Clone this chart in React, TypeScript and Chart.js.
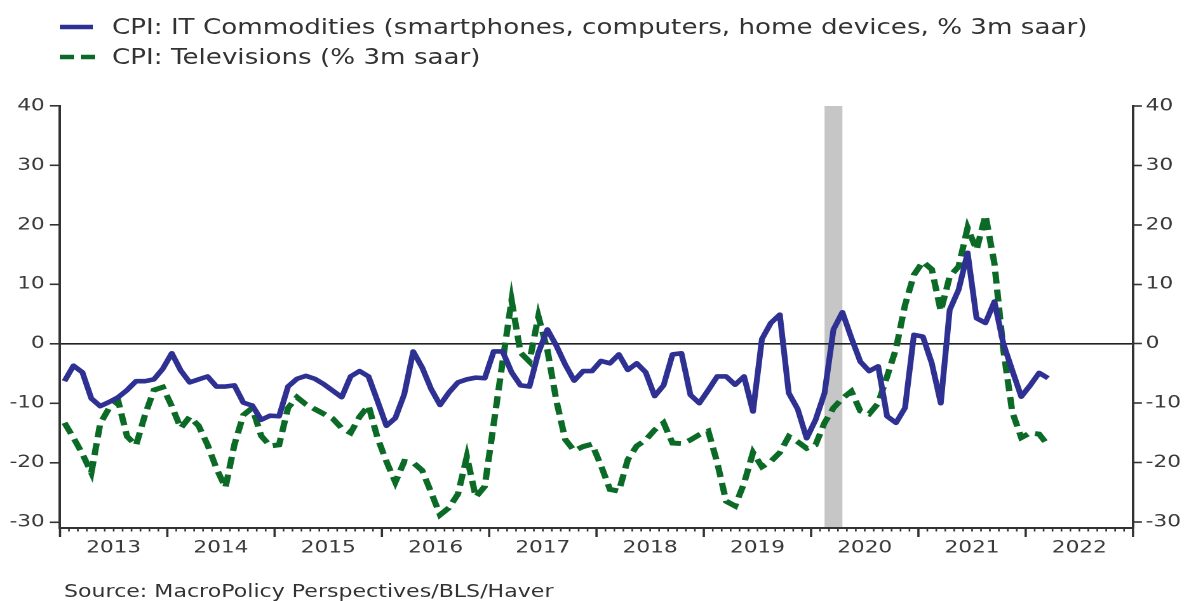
import React, { useEffect, useRef } from "react";
import { Chart, registerables } from "chart.js";

Chart.register(...registerables);

// ---------------- data ----------------
const yearLabels = ["2013", "2014", "2015", "2016", "2017", "2018", "2019", "2020", "2021", "2022"];
const yTicks = [-30, -20, -10, 0, 10, 20, 30, 40];

// monthly, Jan 2013 .. Mar 2022
const itCommodities = [
  -6.3, -3.7, -4.8, -9.2, -10.5, -9.8, -9.0, -7.8, -6.3, -6.3, -6.0, -4.2,
  -1.6, -4.5, -6.5, -6.0, -5.5, -7.2, -7.2, -7.0, -9.9, -10.4, -12.8, -12.1,
  -12.2, -7.2, -5.9, -5.4, -5.9, -6.8, -7.9, -9.0, -5.5, -4.6, -5.5, -9.6,
  -13.8, -12.5, -8.5, -1.3, -4.0, -7.6, -10.3, -8.2, -6.5, -6.0, -5.7, -5.8,
  -1.3, -1.3, -4.8, -7.0, -7.2, -1.5, 2.4, -0.3, -3.5, -6.2, -4.6, -4.6,
  -2.9, -3.3, -1.8, -4.4, -3.3, -4.8, -8.8, -7.0, -1.8, -1.6, -8.6, -10.0,
  -7.8, -5.5, -5.5, -6.9, -5.5, -11.4, 0.8, 3.5, 4.9, -8.3, -11.0, -15.9,
  -12.8, -8.3, 2.4, 5.3, 1.0, -3.0, -4.6, -3.8, -12.2, -13.3, -10.8, 1.5,
  1.2, -3.3, -10.0, 5.7, 9.1, 15.3, 4.3, 3.5, 7.1, 0.0, -4.5, -8.9,
  -7.0, -4.9, -5.8,
];

const televisions = [
  -13.3, -15.8, -18.5, -21.7, -13.4, -10.8, -9.6, -15.6, -17.1, -12.0, -7.8, -7.3,
  -10.5, -14.2, -12.3, -13.8, -17.0, -21.0, -24.2, -17.0, -12.0, -10.8, -15.5, -17.2,
  -17.0, -10.8, -9.0, -10.2, -11.0, -11.8, -12.6, -14.2, -15.0, -12.3, -10.4, -15.8,
  -19.8, -23.3, -19.8, -20.0, -21.3, -25.0, -28.8, -27.6, -25.3, -19.0, -25.8, -24.0,
  -13.5, -3.0, 7.3, -1.5, -3.0, 4.6, -1.0, -9.5, -16.1, -18.0, -17.3, -16.9,
  -20.5, -24.5, -24.8, -19.5, -17.2, -16.2, -14.5, -13.3, -16.7, -16.8, -16.2, -15.3,
  -14.7, -20.0, -26.5, -27.3, -23.5, -18.3, -20.7, -19.8, -18.3, -15.6, -16.5, -17.6,
  -17.0, -13.3, -10.8, -9.2, -8.0, -11.3, -11.8, -10.0, -5.5, -0.8, 6.5, 11.6,
  13.8, 12.5, 5.5, 11.3, 13.0, 19.5, 15.8, 21.6, 13.5, -1.0, -11.5, -15.8,
  -15.0, -15.2, -17.1,
];

// recession shading, months since Jan 2013 (Feb 2020 .. Apr 2020)
const recessionStart = 85;
const recessionEnd = 87;

const legendLabels = [
  "CPI: IT Commodities (smartphones, computers, home devices, % 3m saar)",
  "CPI: Televisions (% 3m saar)",
];
const sourceText = "Source: MacroPolicy Perspectives/BLS/Haver";

// ---------------- style ----------------
const W = 1189;
const H = 601;
const CW = 936; // canvas drawing width (stretched horizontally to W)
const SX = W / CW;
const BLUE = "#2e3192";
const GREEN = "#0b6b26";
const AXIS = "#333333";
const TEXT = "#3a3a3a";
const FONT = "'DejaVu Sans', Verdana, sans-serif";

export default function App() {
  const ref = useRef<HTMLCanvasElement | null>(null);

  useEffect(() => {
    const canvas = ref.current;
    if (!canvas) return;

    const bandPlugin = {
      id: "recessionBand",
      beforeDraw(chart: any) {
        const { ctx, chartArea, scales } = chart;
        const x1 = scales.x.getPixelForValue(recessionStart);
        const x2 = scales.x.getPixelForValue(recessionEnd);
        ctx.save();
        ctx.fillStyle = "#c6c6c6";
        ctx.fillRect(x1, chartArea.top, x2 - x1, chartArea.bottom - chartArea.top);
        ctx.restore();
      },
    };

    const monthTicksPlugin = {
      id: "monthTicks",
      afterDraw(chart: any) {
        const { ctx, chartArea, scales } = chart;
        const xs = scales.x;
        const y0 = chartArea.bottom;
        ctx.save();
        ctx.strokeStyle = AXIS;
        const n = yearLabels.length * 12;
        for (let k = 0; k <= n; k++) {
          const x = xs.getPixelForValue(k - 0.5);
          const major = k % 12 === 0;
          ctx.lineWidth = major ? 1.8 : 1.3;
          ctx.beginPath();
          ctx.moveTo(x, y0);
          ctx.lineTo(x, y0 + (major ? 9 : 3.5));
          ctx.stroke();
        }
        ctx.restore();
      },
    };

    const tickFont = { family: FONT, size: 17 };

    const chart = new Chart(canvas, {
      type: "line",
      data: {
        datasets: [
          {
            label: legendLabels[0],
            data: itCommodities.map((v, i) => ({ x: i, y: v })),
            borderColor: BLUE,
            backgroundColor: BLUE,
            borderWidth: 4.6,
            pointRadius: 0,
            tension: 0,
            borderJoinStyle: "round",
            yAxisID: "y",
          },
          {
            label: legendLabels[1],
            data: televisions.map((v, i) => ({ x: i, y: v })),
            borderColor: GREEN,
            backgroundColor: GREEN,
            borderWidth: 5,
            borderDash: [12, 6],
            pointRadius: 0,
            tension: 0,
            yAxisID: "y",
          },
        ],
      },
      options: {
        responsive: false,
        animation: false,
        devicePixelRatio: 2,
        layout: { padding: { top: 106, left: 0, right: 0, bottom: 0 } },
        plugins: {
          legend: { display: false },
          tooltip: { enabled: false },
          title: { display: false },
        },
        scales: {
          x: {
            type: "linear",
            min: -0.5,
            max: yearLabels.length * 12 - 0.5,
            afterBuildTicks: (s: any) => {
              s.ticks = yearLabels.map((_, k) => ({ value: k * 12 + 5.5 }));
            },
            afterFit: (s: any) => {
              s.height = 73;
            },
            grid: { display: false, drawTicks: false },
            border: { display: true, color: AXIS, width: 2 },
            ticks: {
              autoSkip: false,
              maxRotation: 0,
              padding: 10,
              font: tickFont,
              color: TEXT,
              callback: (v: any) => yearLabels[Math.round((Number(v) - 5.5) / 12)] ?? "",
            },
          },
          y: {
            type: "linear",
            position: "left",
            min: -31,
            max: 40,
            afterBuildTicks: (s: any) => {
              s.ticks = yTicks.map((v) => ({ value: v }));
            },
            afterFit: (s: any) => {
              s.width = 60 / SX;
            },
            grid: {
              drawOnChartArea: true,
              color: (c: any) => (c.tick && c.tick.value === 0 ? "#222222" : "rgba(0,0,0,0)"),
              lineWidth: 1.6,
              tickColor: AXIS,
              tickLength: 8,
              tickWidth: 1.6,
            },
            border: { display: true, color: AXIS, width: 2 },
            ticks: { font: tickFont, color: TEXT, padding: 4 },
          },
          y2: {
            type: "linear",
            position: "right",
            min: -31,
            max: 40,
            afterBuildTicks: (s: any) => {
              s.ticks = yTicks.map((v) => ({ value: v }));
            },
            afterFit: (s: any) => {
              s.width = (W - 1133) / SX;
            },
            grid: {
              drawOnChartArea: false,
              tickColor: AXIS,
              tickLength: 7,
              tickWidth: 1.6,
            },
            border: { display: true, color: AXIS, width: 2 },
            ticks: { font: tickFont, color: TEXT, padding: 3 },
          },
        },
      },
      plugins: [bandPlugin, monthTicksPlugin],
    } as any);

    return () => chart.destroy();
  }, []);

  const textStyle = (top: number, left: number, size: number): React.CSSProperties => ({
    position: "absolute",
    left,
    top,
    fontFamily: FONT,
    fontSize: size,
    lineHeight: 1,
    color: "#333333",
    whiteSpace: "nowrap",
    transform: `scaleX(${SX})`,
    transformOrigin: "0 50%",
  });

  return (
    <div
      style={{
        position: "fixed",
        left: 0,
        top: 0,
        width: W,
        height: H,
        background: "#ffffff",
        overflow: "hidden",
      }}
    >
      <canvas
        ref={ref}
        width={CW}
        height={H}
        style={{ position: "absolute", left: 0, top: 0, width: W, height: H, display: "block" }}
      />
      <svg width={120} height={80} style={{ position: "absolute", left: 0, top: 0 }}>
        <line x1={60} y1={27} x2={93} y2={27} stroke={BLUE} strokeWidth={4.5} />
        <line x1={60} y1={57} x2={95} y2={57} stroke={GREEN} strokeWidth={4.5} strokeDasharray="14 7" />
      </svg>
      <div style={textStyle(27 - 10.5, 112, 20.6)}>{legendLabels[0]}</div>
      <div style={textStyle(57 - 10.5, 112, 20.6)}>{legendLabels[1]}</div>
      <div style={textStyle(592 - 9, 64, 17.4)}>{sourceText}</div>
    </div>
  );
}
